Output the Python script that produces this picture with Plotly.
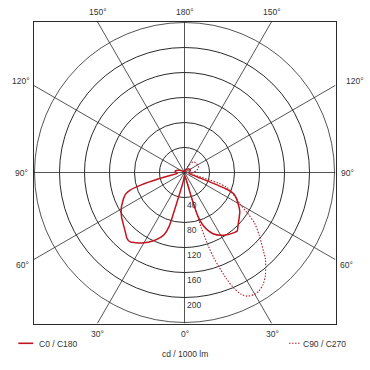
import numpy as np
import plotly.graph_objects as go

# ---------------- data (cd / 1000 lm vs. gamma angle in degrees) ----------------
RINGS = [40, 80, 120, 160, 200, 240]
RING_LABELS = [40, 80, 120, 160, 200]
SPOKES = list(range(0, 360, 30))

GAMMA_C0 = [0, 5, 10, 13, 15, 16, 17, 19, 22, 25, 30, 35, 40, 42, 45, 50, 55, 60, 65, 67,
            68.5, 69.5, 70.5, 72, 75, 80, 90, 100, 110, 120, 130, 140, 150, 180]
I_C0 = [5, 6, 8, 12, 25, 50, 72, 88, 100, 108, 116, 121, 125, 126, 121, 114, 108, 99, 90, 84,
        70, 45, 25, 15, 10, 8, 7, 8, 10, 10, 9, 7, 5, 2]

GAMMA_C180 = [0, 5, 8, 10, 12, 13.5, 15, 16, 18, 20, 25, 30, 35, 38, 41, 45, 50, 55, 60, 65,
              68, 70, 72, 74, 76, 78, 80, 85, 90, 95, 100, 105, 110, 120, 130, 150, 180]
I_C180 = [5, 8, 14, 20, 28, 40, 66, 90, 104, 110, 121, 130, 137, 141, 140, 134, 128, 123, 117, 109,
          104, 100, 92, 72, 45, 25, 15, 11, 13, 15, 15, 13, 10, 6, 4, 2, 2]

GAMMA_C90 = [0, 10, 14, 15.5, 16.5, 17, 18, 19, 20, 21.5, 23, 25, 27, 30, 32, 35, 38, 40, 43, 45,
             50, 54, 57, 60, 63, 66, 70, 71, 72.5, 73.5, 74.5, 76, 80, 90, 100, 110, 120, 130,
             140, 150, 160, 170, 180]
I_C90 = [4, 6, 10, 30, 70, 95, 125, 145, 160, 182, 200, 215, 222, 225, 224, 219, 210, 202, 190, 179,
         156, 139, 121, 104, 94, 85, 74, 70, 58, 42, 22, 12, 10, 14, 20, 24, 24, 24,
         22, 12, 5, 3, 2]

GAMMA_C270 = [0, 30, 60, 90, 120, 150, 180]
I_C270 = [4, 3, 3, 3, 3, 2, 2]

# ---------------- layout geometry ----------------
W = H = 370
CX, CY = 184.5, 172.5      # pixel centre of the diagram
RPX = 150.0                # pixel radius of the outer ring
BOX = 151.0                # pixel half-size of the square frame
RMAX = RINGS[-1]
B = RMAX * BOX / RPX       # data half-size of the frame

RED = "#bf1620"
RED_DOT = "#b0202c"
GRID = "#2a2a2a"
TXT = "#333333"
FONT = "Liberation Sans, Arial, sans-serif"
FS = 8.5


def px(x, y):
    return x / W, 1 - y / H


fig = go.Figure()

# spokes (cartesian, extend to frame)
sx, sy = [], []
for a in SPOKES:
    rad = np.deg2rad(a)
    dxv, dyv = np.sin(rad), -np.cos(rad)
    t = B / max(abs(dxv), abs(dyv))
    sx += [0, dxv * t, None]
    sy += [0, dyv * t, None]
fig.add_trace(go.Scatter(x=sx, y=sy, mode="lines", line=dict(color=GRID, width=0.8),
                         hoverinfo="skip", showlegend=False))

# curves
theta_solid = [-g for g in GAMMA_C180[::-1]] + GAMMA_C0
r_solid = I_C180[::-1] + I_C0
theta_dot = [-g for g in GAMMA_C270[::-1]] + GAMMA_C90
r_dot = I_C270[::-1] + I_C90

fig.add_trace(go.Scatterpolar(theta=theta_dot, r=r_dot, mode="lines", name="C90 / C270",
                              line=dict(color=RED_DOT, width=1.1, dash="1.5px,1.5px",
                                        shape="spline", smoothing=0.8),
                              showlegend=False))
fig.add_trace(go.Scatterpolar(theta=theta_solid, r=r_solid, mode="lines", name="C0 / C180",
                              line=dict(color=RED, width=1.5, shape="spline", smoothing=0.8),
                              showlegend=False))

annotations = []
# radial labels
for v in RING_LABELS:
    annotations.append(dict(x=0, y=-v, xref="x", yref="y", text=str(v), showarrow=False,
                            xanchor="left", yanchor="top", xshift=0, yshift=0,
                            font=dict(size=FS, color=TXT, family=FONT)))

# angle labels (pixel positions)
ang_labels = [
    ("150°", 97.7, 12, "center"), ("180°", 185, 12, "center"), ("150°", 271.7, 12, "center"),
    ("120°", 31.5, 81, "right"), ("120°", 343.5, 81, "left"),
    ("90°", 29.5, 173, "right"), ("90°", 338.5, 173, "left"),
    ("60°", 30.5, 265, "right"), ("60°", 338, 265, "left"),
    ("30°", 97.5, 333.5, "center"), ("0°", 184.5, 333.5, "center"), ("30°", 272.5, 333.5, "center"),
]
for t, x, y, anc in ang_labels:
    xx, yy = px(x, y)
    annotations.append(dict(x=xx, y=yy, xref="paper", yref="paper", text=t, showarrow=False,
                            xanchor=anc, yanchor="middle",
                            font=dict(size=FS, color=TXT, family=FONT)))

# legend texts
for t, x, y, anc in [("C0 / C180", 36.5, 343.5, "left"), ("C90 / C270", 300.5, 343.5, "left"),
                     ("cd / 1000 lm", 185, 353.5, "center")]:
    xx, yy = px(x, y)
    annotations.append(dict(x=xx, y=yy, xref="paper", yref="paper", text=t, showarrow=False,
                            xanchor=anc, yanchor="middle",
                            font=dict(size=FS, color=TXT, family=FONT)))

shapes = []
x0, y0 = px(18.3, 343.3)
x1, _ = px(33.3, 343.3)
shapes.append(dict(type="line", xref="paper", yref="paper", x0=x0, x1=x1, y0=y0, y1=y0,
                   line=dict(color=RED, width=1.6)))
x0, y0 = px(289, 343.3)
x1, _ = px(300, 343.3)
shapes.append(dict(type="line", xref="paper", yref="paper", x0=x0, x1=x1, y0=y0, y1=y0,
                   line=dict(color=RED_DOT, width=1.1, dash="1.5px,1.5px")))

fig.update_layout(
    width=W, height=H, margin=dict(l=0, r=0, t=0, b=0),
    paper_bgcolor="white", plot_bgcolor="white",
    showlegend=False,
    xaxis=dict(domain=[(CX - BOX) / W, (CX + BOX) / W], range=[-B, B],
               showgrid=False, zeroline=False, showticklabels=False, ticks="",
               showline=True, mirror=True, linecolor=GRID, linewidth=1, fixedrange=True),
    yaxis=dict(domain=[1 - (CY + BOX) / H, 1 - (CY - BOX) / H], range=[-B, B],
               showgrid=False, zeroline=False, showticklabels=False, ticks="",
               showline=True, mirror=True, linecolor=GRID, linewidth=1, fixedrange=True),
    polar=dict(
        domain=dict(x=[(CX - RPX) / W, (CX + RPX) / W], y=[1 - (CY + RPX) / H, 1 - (CY - RPX) / H]),
        bgcolor="rgba(0,0,0,0)",
        radialaxis=dict(range=[0, RMAX], tickvals=RINGS, showticklabels=False, ticks="",
                        showline=False, gridcolor=GRID, gridwidth=0.8),
        angularaxis=dict(rotation=270, direction="counterclockwise", showgrid=False,
                         showticklabels=False, ticks="", showline=True, linecolor=GRID,
                         linewidth=0.8),
    ),
    annotations=annotations, shapes=shapes,
)

fig.write_html("out.html")
